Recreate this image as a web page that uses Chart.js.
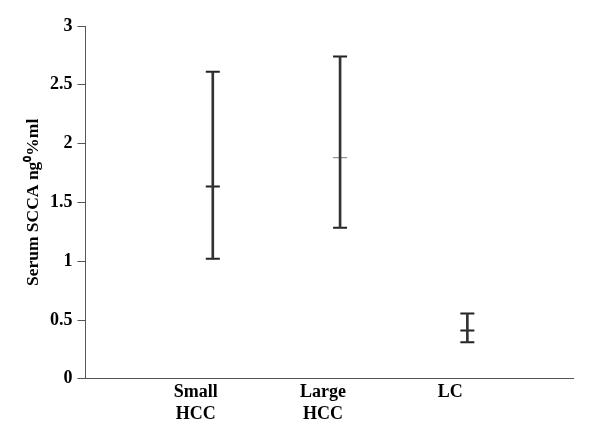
<!DOCTYPE html>
<html>
<head>
<meta charset="utf-8">
<script src="https://cdn.jsdelivr.net/npm/chart.js@4"></script>
<style>
  html, body { margin: 0; padding: 0; background: #fff; }
  #wrap { width: 600px; height: 428px; }
</style>
</head>
<body>
<div id="wrap"><canvas id="scca"></canvas></div>
<script>
// groups and their serum SCCA values (mean with low / high)
const groups = [['Small', 'HCC'], ['Large', 'HCC'], ['LC']];
const groupPos = [1, 2, 3];
const means = [1.635, 1.88, 0.41];
const lows = [1.02, 1.285, 0.31];
const highs = [2.61, 2.74, 0.555];
const yTicks = [0, 0.5, 1, 1.5, 2, 2.5, 3];

const serif = 'Liberation Serif, Times New Roman, serif';

window.addEventListener('load', function () {

    const bars = groupPos.map((x, i) => ({ x: x, y: [lows[i], highs[i]] }));
    const capsHigh = groupPos.map((x, i) => ({ x: x, y: highs[i] }));
    const capsLow = groupPos.map((x, i) => ({ x: x, y: lows[i] }));
    const meanPts = groupPos.map((x, i) => ({ x: x, y: means[i] }));

    const capStyle = {
        type: 'line',
        showLine: false,
        pointStyle: 'line',
        pointRadius: 7,
        pointBorderWidth: 2,
        pointBorderColor: '#222',
        pointBackgroundColor: '#222'
    };

    const config = {
        type: 'bar',
        data: {
            datasets: [
                {
                    label: 'range',
                    data: bars,
                    backgroundColor: '#333',
                    barThickness: 2,
                    borderWidth: 0
                },
                Object.assign({ label: 'high', data: capsHigh }, capStyle),
                Object.assign({ label: 'low', data: capsLow }, capStyle),
                Object.assign({ label: 'mean', data: meanPts }, capStyle, {
                    pointBorderColor: ['#222', '#777', '#222'],
                    pointBorderWidth: [2, 1, 2]
                })
            ]
        },
        options: {
            responsive: true,
            maintainAspectRatio: false,
            animation: false,
            layout: { padding: { top: 26, right: 27, bottom: 0, left: 21 } },
            plugins: {
                legend: { display: false },
                tooltip: { enabled: false }
            },
            scales: {
                x: {
                    type: 'linear',
                    offset: false,
                    min: 0,
                    max: 3.83,
                    grid: { display: false, drawTicks: false },
                    border: { color: '#555', width: 1 },
                    afterBuildTicks: function (axis) {
                        axis.ticks = groupPos.map(v => ({ value: v }));
                    },
                    ticks: {
                        autoSkip: false,
                        maxRotation: 0,
                        labelOffset: -17,
                        padding: 3,
                        color: '#000',
                        font: { family: serif, size: 18, weight: 'bold', lineHeight: 1.2 },
                        callback: function (value) {
                            const i = groupPos.indexOf(value);
                            return i >= 0 ? groups[i] : '';
                        }
                    }
                },
                y: {
                    min: 0,
                    max: 3,
                    afterBuildTicks: function (axis) {
                        axis.ticks = yTicks.map(v => ({ value: v }));
                    },
                    grid: {
                        drawOnChartArea: false,
                        drawTicks: true,
                        tickLength: 8,
                        color: '#555'
                    },
                    border: { color: '#555', width: 1 },
                    ticks: {
                        color: '#000',
                        padding: 5,
                        font: { family: serif, size: 18, weight: 'bold' },
                        callback: function (value) {
                            return String(value);
                        }
                    },
                    title: {
                        display: true,
                        text: 'Serum SCCA ng\u2070%ml',
                        color: '#000',
                        padding: { top: 2, bottom: 1 },
                        font: { family: serif, size: 17.5, weight: 'bold' }
                    }
                }
            }
        }
    };

    const ctx = document.getElementById('scca').getContext('2d');
    const sccaChart = new Chart(ctx, config);
});
</script>
</body>
</html>
